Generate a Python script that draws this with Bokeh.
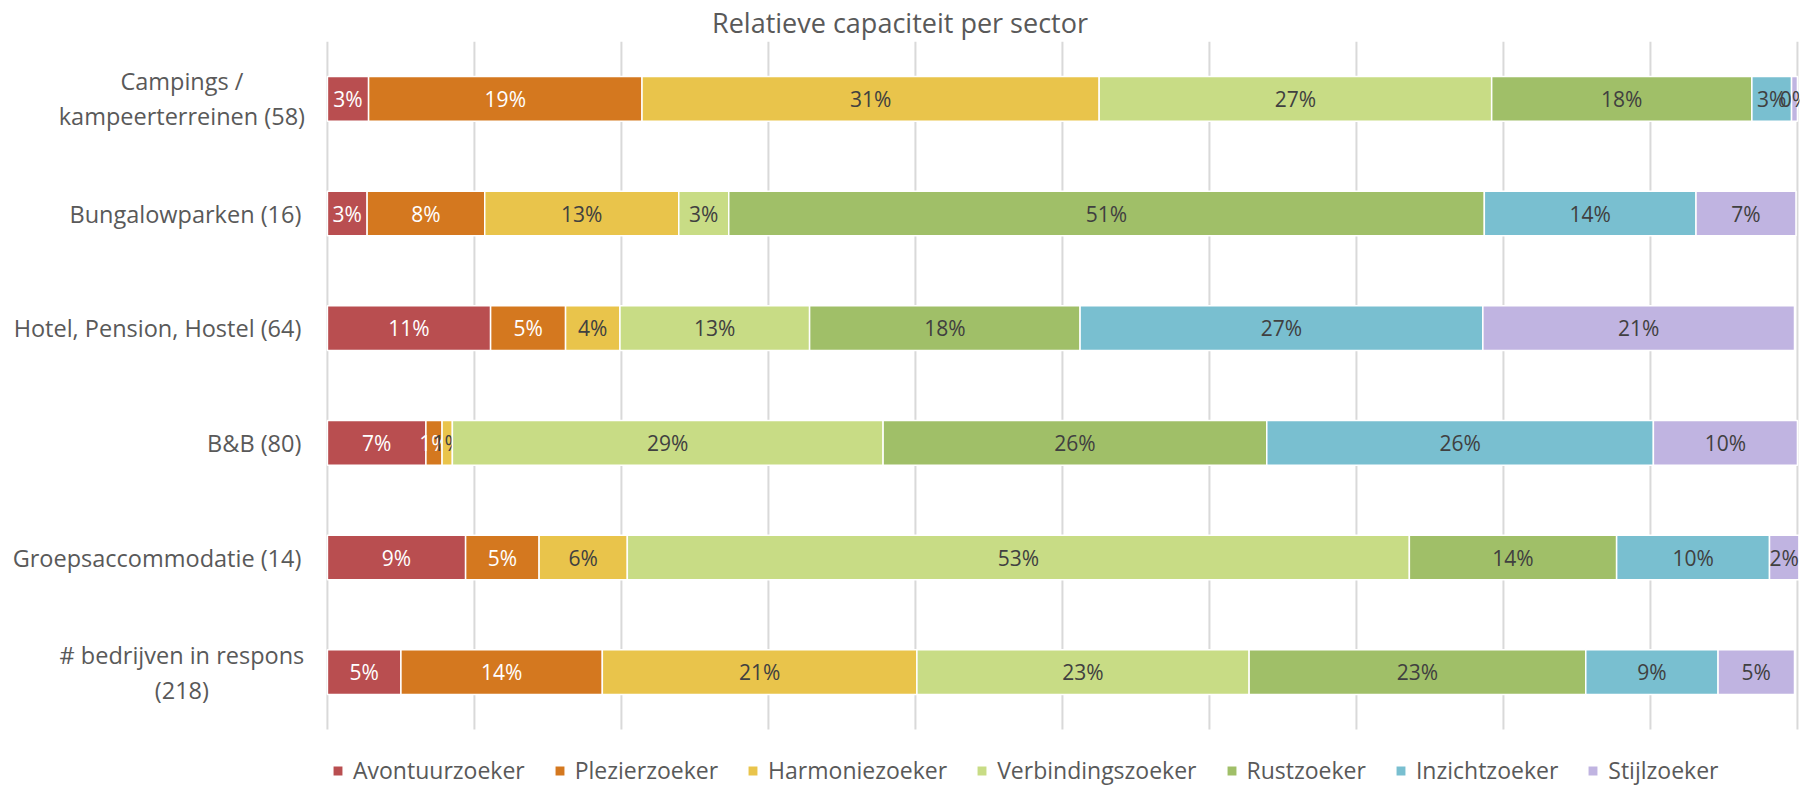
import numpy as np
from bokeh.plotting import figure
from bokeh.models import Range1d, Legend, LegendItem, ColumnDataSource
from bokeh.core.properties import value
from bokeh.embed import file_html
from bokeh.resources import INLINE

categories = [
    "Campings /\nkampeerterreinen (58)",
    "Bungalowparken (16)",
    "Hotel, Pension, Hostel (64)",
    "B&B (80)",
    "Groepsaccommodatie (14)",
    "# bedrijven in respons\n(218)",
]
series = ["Avontuurzoeker", "Plezierzoeker", "Harmoniezoeker", "Verbindingszoeker",
          "Rustzoeker", "Inzichtzoeker", "Stijlzoeker"]
colors = ["#B94E50", "#D4781F", "#E9C44B", "#C8DC85", "#A0BF68", "#79BFD0", "#C0B4E1"]
label_colors = ["white", "white", "#404040", "#404040", "#404040", "#404040", "#404040"]

avontuur = [0.028, 0.027, 0.111, 0.067, 0.094, 0.050]
plezier = [0.186, 0.080, 0.051, 0.011, 0.050, 0.137]
harmonie = [0.311, 0.132, 0.037, 0.007, 0.060, 0.214]
verbinding = [0.267, 0.034, 0.129, 0.293, 0.532, 0.226]
rust = [0.177, 0.514, 0.184, 0.261, 0.141, 0.229]
inzicht = [0.027, 0.144, 0.274, 0.263, 0.104, 0.090]
stijl = [0.004, 0.068, 0.212, 0.098, 0.020, 0.052]
values = [avontuur, plezier, harmonie, verbinding, rust, inzicht, stijl]
x_ticks = [0.0, 0.1, 0.2, 0.3, 0.4, 0.5, 0.6, 0.7, 0.8, 0.9, 1.0]

FONT = "Open Sans"
GREY = "#595959"

n = len(categories)
ypos = np.arange(n)[::-1].astype(float)  # first category at the top

p = figure(width=1812, height=786, output_backend="svg", toolbar_location=None,
           x_range=Range1d(-0.2224, 1.0014), y_range=Range1d(-0.997, n - 0.5),
           min_border_left=0, min_border_right=13, min_border_top=41, min_border_bottom=0)

p.title.text = "Relatieve capaciteit per sector"
p.title.align = "center"
p.title.offset = 13
p.title.text_font = FONT
p.title.text_font_size = "27px"
p.title.text_font_style = "normal"
p.title.text_color = GREY
p.title.standoff = 2

p.outline_line_color = None
p.xaxis.visible = False
p.yaxis.visible = False
p.xgrid.grid_line_color = None
p.ygrid.grid_line_color = None

# vertical gridlines over the category area
p.segment(x0=x_ticks, x1=x_ticks, y0=-0.5, y1=n - 0.5, line_color="#D9D9D9", line_width=2)

# category labels
single_i = [i for i, c in enumerate(categories) if "\n" not in c]
multi_i = [i for i, c in enumerate(categories) if "\n" in c]
p.text(x=-0.0177, y=ypos[single_i], text=[categories[i] for i in single_i],
       text_align="right", text_baseline="middle",
       text_font=value(FONT), text_font_size="23.5px", text_color=GREY)
p.text(x=-0.099, y=ypos[multi_i], text=[categories[i] for i in multi_i],
       text_align="center", text_baseline="middle",
       text_font=value(FONT), text_font_size="23.5px", text_color=GREY,
       text_line_height=1.1)

left = np.zeros(n)
items = []
for name, vals, col, lcol in zip(series, values, colors, label_colors):
    vals = np.array(vals)
    right = left + vals
    src = ColumnDataSource(dict(y=ypos, left=left, right=right,
                                xm=left + vals / 2,
                                txt=["{:.0f}%".format(v * 100) for v in vals]))
    r = p.hbar(y="y", left="left", right="right", height=0.39, source=src,
               fill_color=col, line_color="white", line_width=1.5)
    p.text(x="xm", y="y", text="txt", source=src, text_align="center",
           text_baseline="middle", text_font=value(FONT), text_font_size="21px",
           text_color=lcol)
    items.append(LegendItem(label=name, renderers=[r]))
    left = right

legend = Legend(items=items, orientation="horizontal", location=(331, 0),
                label_text_font=FONT, label_text_font_size="23px",
                label_text_color=GREY, glyph_width=13, glyph_height=13,
                label_standoff=9, spacing=28, padding=2, margin=0,
                border_line_color=None, background_fill_alpha=0)
p.add_layout(legend, "center")

open("out.html", "w").write(file_html(p, INLINE))
